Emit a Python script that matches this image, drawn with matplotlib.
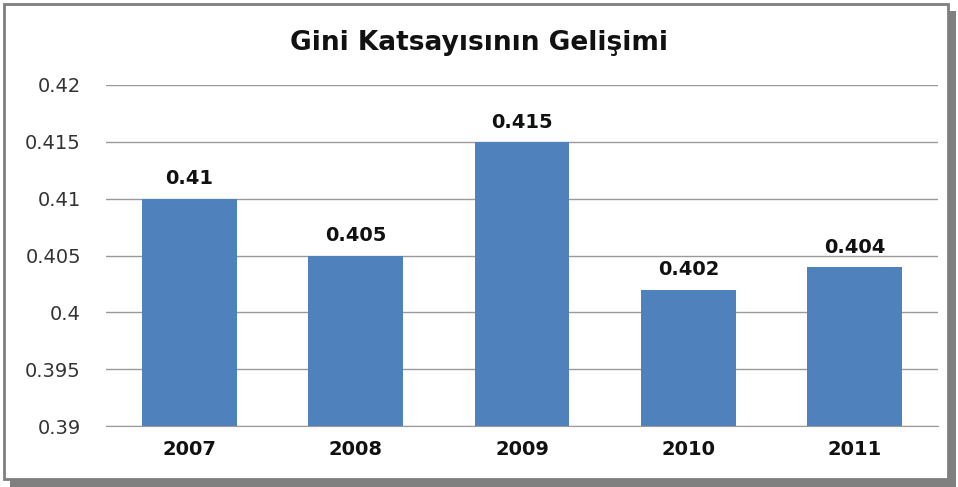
import matplotlib.pyplot as plt
from matplotlib.patches import Rectangle

years = ['2007', '2008', '2009', '2010', '2011']
gini = [0.41, 0.405, 0.415, 0.402, 0.404]
labels = ['0.41', '0.405', '0.415', '0.402', '0.404']
yticks = [0.39, 0.395, 0.4, 0.405, 0.41, 0.415, 0.42]
ytick_labels = ['0.39', '0.395', '0.4', '0.405', '0.41', '0.415', '0.42']

plt.rcParams['font.family'] = ['DejaVu Sans']

fig = plt.figure(figsize=(9.58, 4.87), dpi=100)
W, H = 958, 487

# shadow + frame, drawn under the axes
fig.patches.append(Rectangle((10 / W, 1 - 487 / H), 946 / W, 476 / H,
                             transform=fig.transFigure, facecolor='#808080',
                             edgecolor='none', zorder=-2))
fig.patches.append(Rectangle((4 / W, 1 - 479 / H), 944 / W, 475 / H,
                             transform=fig.transFigure, facecolor='white',
                             edgecolor='#7f7f7f', linewidth=2, zorder=-1))

ax = fig.add_axes([106 / W, 1 - 426 / H, 832 / W, 341 / H])
ax.set_facecolor('none')
ax.set_zorder(1)
x = range(len(years))
ax.bar(x, gini, width=0.57, color='#4F81BD', zorder=2)
for i, v in enumerate(gini):
    ax.text(i, v + 0.0009, labels[i], ha='center', va='bottom',
            fontsize=14, fontweight='bold', color='#111111')

ax.set_ylim(0.39, 0.42)
ax.set_xlim(-0.5, len(years) - 0.5)
ax.set_yticks(yticks)
ax.set_yticklabels(ytick_labels, fontsize=14, color='#333333')
ax.set_xticks(list(x))
ax.set_xticklabels(years, fontsize=14, fontweight='bold', color='#111111')
ax.grid(axis='y', color='#999999', linewidth=1, zorder=0)
ax.set_axisbelow(True)
for s in ['top', 'right', 'left']:
    ax.spines[s].set_visible(False)
ax.spines['bottom'].set_color('#999999')
ax.tick_params(axis='both', length=0)
ax.tick_params(axis='y', pad=18)
ax.tick_params(axis='x', pad=10)

fig.text(0.5, 1 - 43 / H, 'Gini Katsayısının Gelişimi', ha='center', va='center',
         fontsize=19, fontweight='bold', color='#111111', zorder=3)

fig.savefig('out.png', dpi=100)
